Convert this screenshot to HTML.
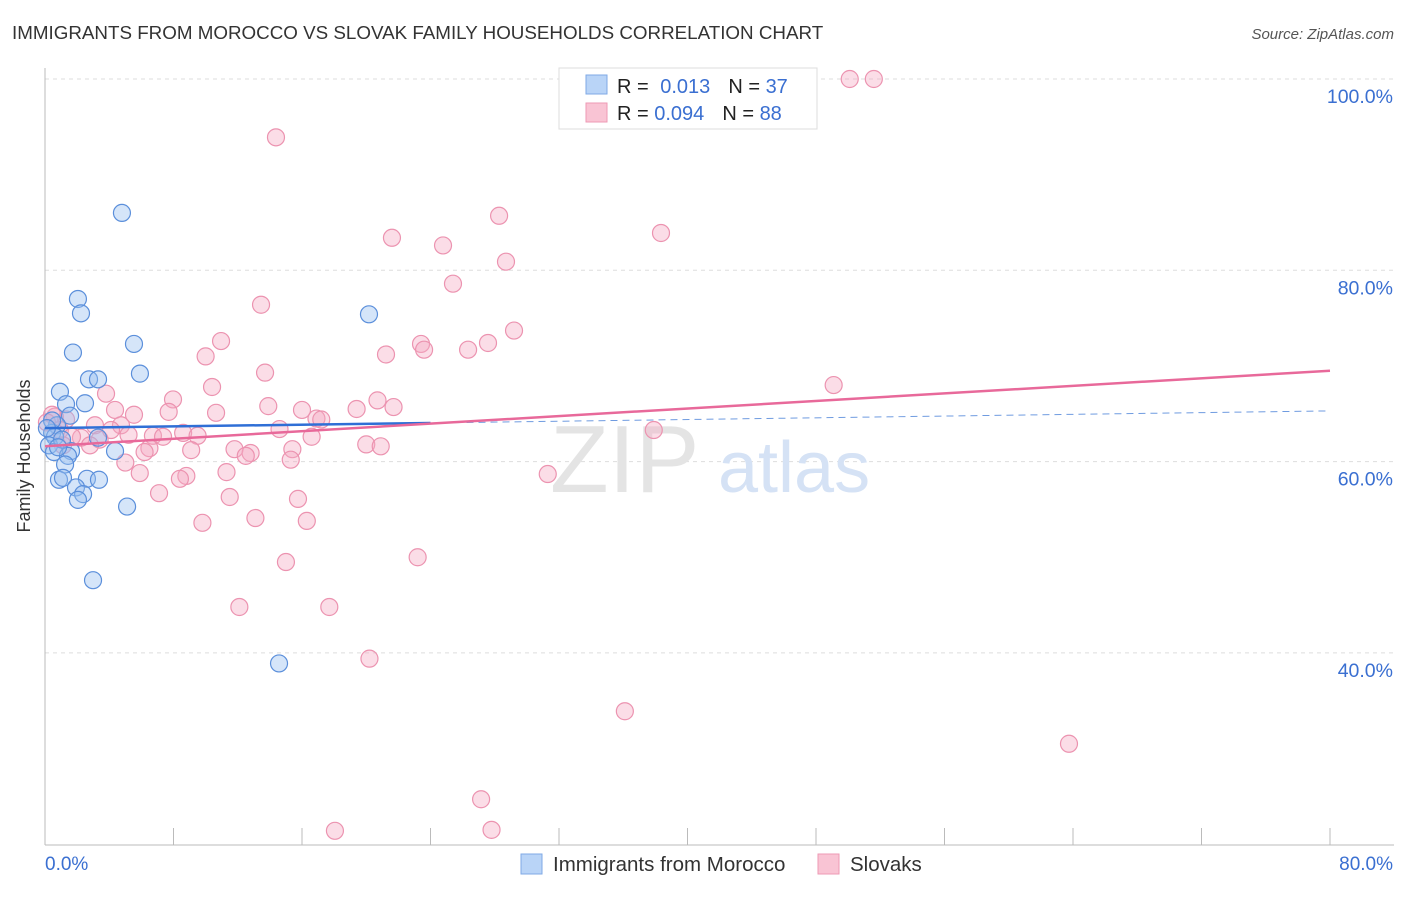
<!DOCTYPE html>
<html><head><meta charset="utf-8"><style>
body{margin:0;background:#fff;font-family:"Liberation Sans",sans-serif;}
svg text{font-family:"Liberation Sans",sans-serif;}
</style></head><body>
<svg id="chart" width="1406" height="892" xmlns="http://www.w3.org/2000/svg">
<text x="12" y="39" font-size="18.8" fill="#333">IMMIGRANTS FROM MOROCCO VS SLOVAK FAMILY HOUSEHOLDS CORRELATION CHART</text>
<text x="1394" y="39" font-size="15" fill="#555" font-style="italic" text-anchor="end">Source: ZipAtlas.com</text>
<text x="30" y="456" font-size="18" fill="#333" text-anchor="middle" transform="rotate(-90 30 456)">Family Households</text>
<g id="grid"></g>
<text x="550" y="492" font-size="96" fill="#e4e4e4" font-family="Liberation Serif">ZIP</text>
<text x="718" y="492" font-size="72" fill="#d5e2f5">atlas</text>
<g id="points"></g>
<g id="lines"></g>
<g>
<rect x="559" y="68" width="258" height="61" fill="#fff" stroke="#ddd"/>
<rect x="586" y="75" width="21" height="19" fill="#b9d4f7" stroke="#7fa9e6"/>
<rect x="586" y="103" width="21" height="19" fill="#f9c4d4" stroke="#ee9ab4"/>
<text x="617" y="93" font-size="20" fill="#222">R = <tspan fill="#3a6fd1" dx="6">0.013</tspan><tspan dx="18" fill="#222">N = </tspan><tspan fill="#3a6fd1">37</tspan></text>
<text x="617" y="120" font-size="20" fill="#222">R = <tspan fill="#3a6fd1">0.094</tspan><tspan dx="18" fill="#222">N = </tspan><tspan fill="#3a6fd1">88</tspan></text>
</g>
<g>
<rect x="521" y="854" width="21" height="20" fill="#b9d4f7" stroke="#7fa9e6"/>
<text x="553" y="871" font-size="20.5" fill="#333">Immigrants from Morocco</text>
<rect x="818" y="854" width="21" height="20" fill="#f9c4d4" stroke="#ee9ab4"/>
<text x="850" y="871" font-size="20.5" fill="#333">Slovaks</text>
</g>
</svg>
<script>
const yTicks=[100,80,60,40];
const yTickLabels=["100.0%","80.0%","60.0%","40.0%"];
const xTicks=[0,8,16,24,32,40,48,56,64,72,80];
const xEndLabels=["0.0%","80.0%"];
const blueX=[4.79,2.05,2.24,20.17,5.54,1.74,5.91,2.74,3.30,0.93,1.31,2.49,1.56,0.75,0.44,0.62,3.30,0.25,0.56,4.36,1.62,1.43,1.25,0.87,1.12,2.61,3.36,1.93,2.37,2.05,5.11,2.99,14.57,0.44,1.06,0.12,0.81];
const blueY=[86.0,77.0,75.5,75.4,72.3,71.4,69.2,68.6,68.6,67.3,66.0,66.1,64.8,63.8,63.0,62.6,62.5,61.7,61.0,61.1,61.1,60.6,59.7,58.1,58.3,58.2,58.1,57.3,56.6,56.0,55.3,47.6,38.9,64.3,62.3,63.5,61.5];
const pinkX=[50.1,51.6,14.38,28.27,38.35,21.6,24.78,28.7,25.4,13.45,29.2,10.96,23.41,27.58,23.6,26.34,21.23,10.0,13.7,49.1,10.4,3.8,7.97,20.7,4.36,13.9,21.7,19.4,16.0,10.65,7.7,5.54,16.9,17.2,0.62,1.31,3.11,4.73,14.6,4.11,37.9,8.6,5.2,6.72,7.35,9.5,16.6,2.24,3.4,2.8,20.0,20.9,6.5,11.8,9.1,15.4,6.2,12.8,12.5,15.3,5.0,11.3,5.9,8.8,8.4,31.3,7.1,11.5,15.75,13.1,16.3,9.8,23.2,15.0,12.1,17.7,20.2,36.1,63.75,27.15,18.05,27.8,0.44,0.93,1.68,1.12,0.12];
const pinkY=[100,100,93.9,85.7,83.9,83.4,82.6,80.9,78.6,76.4,73.7,72.6,72.3,72.4,71.7,71.7,71.2,71.0,69.3,68.0,67.8,67.1,66.5,66.4,65.4,65.8,65.7,65.5,65.4,65.1,65.2,64.9,64.5,64.4,64.7,64.4,63.8,63.8,63.4,63.3,63.3,63.0,62.8,62.7,62.6,62.7,62.6,62.5,62.3,61.7,61.8,61.6,61.4,61.3,61.2,61.3,61.0,60.9,60.6,60.2,59.9,58.9,58.8,58.5,58.2,58.7,56.7,56.3,56.1,54.1,53.8,53.6,50.0,49.5,44.8,44.8,39.4,33.9,30.5,24.7,21.4,21.5,64.9,63.3,62.6,61.7,64.1];
const blueTrend=[63.5,65.3];
const pinkTrend=[61.6,69.5];
const NS="http://www.w3.org/2000/svg";
const xs=v=>45+v/80*1285;
const ys=v=>79+(100-v)/20*191.3;
function mk(t,a,p){const e=document.createElementNS(NS,t);for(const k in a)e.setAttribute(k,a[k]);p.appendChild(e);return e;}
const grid=document.getElementById('grid');
yTicks.forEach((t,i)=>{
 const l=mk('line',{x1:45,x2:1394,y1:ys(t),y2:ys(t),stroke:'#ddd','stroke-dasharray':'4,4'},grid);
 
 
 const tx=mk('text',{x:1393,y:ys(t)+24,'font-size':19.5,fill:'#3a6fd1','text-anchor':'end'},grid);
 tx.textContent=yTickLabels[i];
 
 
});
const ax=mk('line',{x1:45,x2:45,y1:68,y2:845,stroke:'#bbb'},grid);


const bx=mk('line',{x1:45,x2:1394,y1:845,y2:845,stroke:'#bbb'},grid);


xTicks.forEach(t=>{
 const l=mk('line',{x1:xs(t),x2:xs(t),y1:828,y2:845,stroke:'#bbb'},grid);
 
 
});
const xl0=mk('text',{x:45,y:870,'font-size':19,fill:'#3a6fd1'},grid);xl0.textContent=xEndLabels[0];


const xl1=mk('text',{x:1393,y:870,'font-size':19,fill:'#3a6fd1','text-anchor':'end'},grid);xl1.textContent=xEndLabels[1];


const pts=document.getElementById('points');
pinkX.forEach((x,i)=>{
 const c=mk('circle',{cx:xs(x),cy:ys(pinkY[i]),r:8.5,fill:'rgba(246,170,194,0.4)',stroke:'#ec93b0','stroke-width':1.2},pts);
 
 
});
blueX.forEach((x,i)=>{
 const c=mk('circle',{cx:xs(x),cy:ys(blueY[i]),r:8.5,fill:'rgba(150,190,240,0.4)',stroke:'#5b8fdb','stroke-width':1.2},pts);
 
 
});
const ln=document.getElementById('lines');
const bAt=v=>blueTrend[0]+(blueTrend[1]-blueTrend[0])*v/80;
const b1=mk('line',{x1:xs(0),y1:ys(bAt(0)),x2:xs(24),y2:ys(bAt(24)),stroke:'#2f6fd6','stroke-width':2.5},ln);


const b2=mk('line',{x1:xs(24),y1:ys(bAt(24)),x2:xs(80),y2:ys(bAt(80)),stroke:'#6f9be0','stroke-width':1,'stroke-dasharray':'7,5'},ln);


const p1=mk('line',{x1:xs(0),y1:ys(pinkTrend[0]),x2:xs(80),y2:ys(pinkTrend[1]),stroke:'#e8699a','stroke-width':2.5},ln);


</script>
</body></html>
